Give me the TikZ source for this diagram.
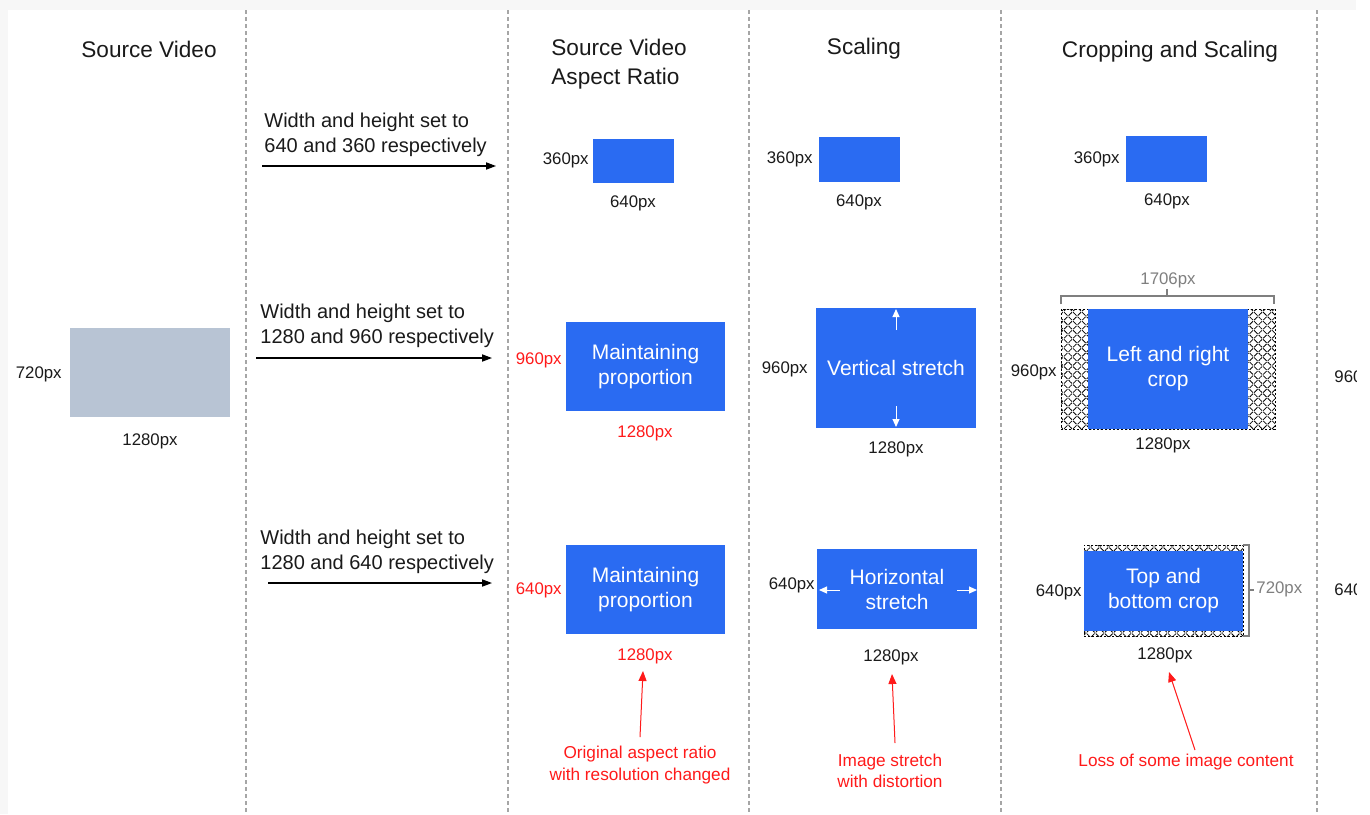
\documentclass[tikz,border=0pt]{standalone}
\usepackage{fontspec}
\setmainfont{Liberation Sans}
\usetikzlibrary{arrows.meta,patterns.meta}
\definecolor{vblue}{HTML}{2A6BF2}
\definecolor{vgrey}{HTML}{B8C4D4}
\definecolor{vred}{HTML}{FF1A1A}
\definecolor{lgrey}{HTML}{7F7F7F}
\definecolor{txt}{HTML}{1A1A1A}
\definecolor{sep}{HTML}{A6A6A6}
\tikzset{
  title/.style={text=txt,font=\fontsize{11.3}{14.5}\selectfont,inner sep=0pt},
  cmd/.style={text=txt,font=\fontsize{10}{12.5}\selectfont,align=left,inner sep=0pt},
  dim/.style={text=txt,font=\fontsize{8.4}{10}\selectfont,inner sep=0pt},
  rdim/.style={dim,text=vred},
  gdim/.style={dim,text=lgrey},
  note/.style={text=vred,font=\fontsize{8.6}{10.8}\selectfont,align=center,inner sep=0pt},
  bbox/.style={fill=vblue,text=white,font=\fontsize{10.5}{12.5}\selectfont,align=center,inner sep=0pt},
  hatch/.style={draw=black,line width=0.35pt,dash pattern=on 1.2pt off 0.8pt,inner sep=0pt,
    postaction={pattern={Lines[angle=45,distance=3.2pt,line width=0.4pt]}},
    postaction={pattern={Lines[angle=-45,distance=3.2pt,line width=0.4pt]}}},
  sepline/.style={draw=sep,line width=0.6pt,dash pattern=on 2pt off 1.5pt},
  cmdarrow/.style={draw=black,line width=0.6pt,-{Triangle[length=5pt,width=3.6pt]}},
  redarrow/.style={draw=vred,line width=0.5pt,-{Triangle[length=5pt,width=4pt]}},
  wharrow/.style={draw=white,line width=0.5pt,-{Triangle[length=4pt,width=3.5pt]}},
  brk/.style={draw=lgrey,line width=0.7pt}
}
\begin{document}
\begin{tikzpicture}[x=0.5pt,y=-0.5pt]
\useasboundingbox (0,0) rectangle (1370,814);
\fill[white] (0,0) rectangle (1370,814);
\fill[gray!6] (0,0) rectangle (1356,10);
\fill[gray!6] (0,0) rectangle (8,814);

% separators
\foreach \x/\n in {246/s1,508/s2,749/s3,1001/s4,1317/s5}{
  \coordinate (\n t) at (\x,10);
  \coordinate (\n b) at (\x,814);
  \draw[sepline] (\n t) -- (\n b);
}

% headers
\node[title] (h1) at (149,49) {Source Video};
\node[title,align=left,anchor=west] (h3) at (551,64) {Source Video\\Aspect Ratio};
\node[title] (h4) at (864,49) {Scaling};
\node[title] (h5) at (1170,52) {Cropping and Scaling};

% source video
\node[fill=vgrey,minimum width=80pt,minimum height=44.5pt,inner sep=0pt] (src) at (150,372.5) {};
\node[dim,anchor=east] (srch) at (62,374) {720px};
\node[dim] (srcw) at (150,441) {1280px};

% commands
\node[cmd,anchor=west] (c1) at (264,135) {Width and height set to\\640 and 360 respectively};
\coordinate (a1s) at (262,166); \coordinate (a1e) at (496,166);
\draw[cmdarrow] (a1s) -- (a1e);
\node[cmd,anchor=west] (c2) at (260,326) {Width and height set to\\1280 and 960 respectively};
\coordinate (a2s) at (256,358); \coordinate (a2e) at (492,358);
\draw[cmdarrow] (a2s) -- (a2e);
\node[cmd,anchor=west] (c3) at (260,552) {Width and height set to\\1280 and 640 respectively};
\coordinate (a3s) at (268,583); \coordinate (a3e) at (492,583);
\draw[cmdarrow] (a3s) -- (a3e);

% column: aspect ratio
\node[bbox,minimum width=40.5pt,minimum height=22pt] (p1) at (633.5,161) {};
\node[dim,anchor=east] (p1h) at (589,160) {360px};
\node[dim] (p1w) at (633,203) {640px};

\node[bbox,minimum width=79.5pt,minimum height=44.5pt] (p2) at (645.5,366.5) {Maintaining\\proportion};
\node[rdim,anchor=east] (p2h) at (562,360) {960px};
\node[rdim] (p2w) at (645,433) {1280px};

\node[bbox,minimum width=79.5pt,minimum height=44.5pt] (p3) at (645.5,589.5) {Maintaining\\proportion};
\node[rdim,anchor=east] (p3h) at (562,590) {640px};
\node[rdim] (p3w) at (645,656) {1280px};

\node[note] (n1) at (640,765) {Original aspect ratio\\with resolution changed};
\coordinate (r1s) at (640,737); \coordinate (r1e) at (643,671);
\draw[redarrow] (r1s) -- (r1e);

% column: scaling
\node[bbox,minimum width=40.5pt,minimum height=22.5pt] (s1) at (859.5,159.5) {};
\node[dim,anchor=east] (s1h) at (813,159) {360px};
\node[dim] (s1w) at (859,202) {640px};

\node[bbox,minimum width=80pt,minimum height=60pt] (s2) at (896,368) {Vertical stretch};
\node[dim,anchor=east] (s2h) at (808,369) {960px};
\node[dim] (s2w) at (896,449) {1280px};
\coordinate (v1s) at (896,330); \coordinate (v1e) at (896,309);
\coordinate (v2s) at (896,406); \coordinate (v2e) at (896,427);
\draw[wharrow] (v1s) -- (v1e);
\draw[wharrow] (v2s) -- (v2e);

\node[bbox,minimum width=80pt,minimum height=40pt] (s3) at (897,589) {Horizontal\\stretch};
\node[dim,anchor=east] (s3h) at (815,585) {640px};
\node[dim] (s3w) at (891,657) {1280px};
\coordinate (w1s) at (840,590); \coordinate (w1e) at (819,590);
\coordinate (w2s) at (957,590); \coordinate (w2e) at (977,590);
\draw[wharrow] (w1s) -- (w1e);
\draw[wharrow] (w2s) -- (w2e);

\node[note] (n2) at (890,771) {Image stretch\\with distortion};
\coordinate (r2s) at (895,743); \coordinate (r2e) at (892,674);
\draw[redarrow] (r2s) -- (r2e);

% column: cropping and scaling
\node[bbox,minimum width=40.5pt,minimum height=23pt] (k1) at (1166.5,159) {};
\node[dim,anchor=east] (k1h) at (1120,159) {360px};
\node[dim] (k1w) at (1167,201) {640px};

\node[hatch,minimum width=107pt,minimum height=60pt] (k2h) at (1168,369) {};
\node[bbox,minimum width=80pt,minimum height=60pt] (k2) at (1168,369) {Left and right\\crop};
\node[dim,anchor=east] (k2hl) at (1057,372) {960px};
\node[dim] (k2w) at (1163,445) {1280px};
\coordinate (b1) at (1061,304); \coordinate (b2) at (1061,296);
\coordinate (b3) at (1274,296); \coordinate (b4) at (1274,304);
\coordinate (b5) at (1167,296); \coordinate (b6) at (1167,289);
\draw[brk] (b1) -- (b2) -- (b3) -- (b4);
\draw[brk] (b5) -- (b6);
\node[gdim] (k2t) at (1168,280) {1706px};

\node[hatch,minimum width=79.5pt,minimum height=45.5pt] (k3h) at (1163.5,590.5) {};
\node[bbox,minimum width=79.5pt,minimum height=40pt] (k3) at (1163.5,591) {Top and\\bottom crop};
\node[dim,anchor=east] (k3hl) at (1082,592) {640px};
\node[dim] (k3w) at (1165,655) {1280px};
\coordinate (d1) at (1243,545); \coordinate (d2) at (1249,545);
\coordinate (d3) at (1249,636); \coordinate (d4) at (1243,636);
\coordinate (d5) at (1249,590); \coordinate (d6) at (1254,590);
\draw[brk] (d1) -- (d2) -- (d3) -- (d4);
\draw[brk] (d5) -- (d6);
\node[gdim,anchor=west] (k3r) at (1256,589) {720px};

\node[note] (n3) at (1186,762) {Loss of some image content};
\coordinate (r3s) at (1195,750); \coordinate (r3e) at (1169,672);
\draw[redarrow] (r3s) -- (r3e);

% partially visible next column (cut off at the edge, as in the reference)
\begin{scope}
\clip (1318,0) rectangle (1356,814);
\node[dim,anchor=west] (x2) at (1334,378) {960px};
\node[dim,anchor=west] (x3) at (1334,591) {640px};
\end{scope}
\end{tikzpicture}
\end{document}
